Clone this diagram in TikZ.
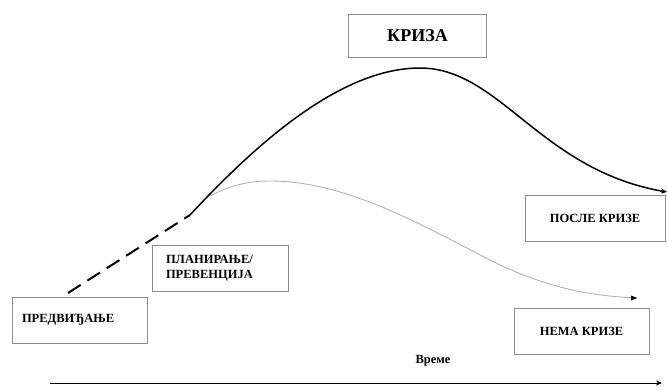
\documentclass[tikz,border=0pt]{standalone}
\usepackage{fontspec}
\setmainfont{Liberation Serif}
\usetikzlibrary{arrows.meta}
\begin{document}
\begin{tikzpicture}[x=1pt,y=-1pt,
  box/.style={draw=black!45, line width=0.7pt, minimum height=46pt, inner sep=0pt,
    font=\bfseries\fontsize{12.5}{15}\selectfont},
  tip/.style={-{Stealth[length=6pt,width=5pt]}}]
\useasboundingbox (0,0) rectangle (668,391);
\node[box, minimum width=138pt, minimum height=43pt, font=\bfseries\fontsize{18}{20}\selectfont] (kriza) at (417.5,36) {КРИЗА};
\node[box, minimum width=135pt, text width=115pt, align=left] (pred) at (79.5,320) {ПРЕДВИЂАЊЕ};
\node[box, minimum width=136pt, text width=108pt, align=left] (plan) at (220,268) {ПЛАНИРАЊЕ/\\ПРЕВЕНЦИЈА};
\node[box, minimum width=140pt] (posle) at (595,218) {ПОСЛЕ КРИЗЕ};
\node[box, minimum width=135pt] (nema) at (581.5,331) {НЕМА КРИЗЕ};
\node[font=\bfseries\fontsize{12.5}{15}\selectfont] (vreme) at (433,361) {Време};
\coordinate (d0) at (68,293);
\coordinate (s0) at (190,215);
\coordinate (peak) at (420,68);
\coordinate (s1) at (667,192);
\coordinate (g0) at (210,196);
\coordinate (g1) at (637,298);
\coordinate (t0) at (50,383);
\coordinate (t1) at (662,383);
\draw[line width=2pt, dash pattern=on 15pt off 8pt] (d0) -- (s0);
\draw[line width=1.5pt, tip] (s0) .. controls (255,145) and (340,68) .. (peak)
  .. controls (500,68) and (540,170) .. (s1);
\draw[black!30, line width=0.9pt] (g0) .. controls (232,184) and (252,181) .. (270,181)
  .. controls (350,181) and (430,230) .. (500,265) .. controls (550,288) and (590,296) .. (g1);
\fill (g1) ++(-6,-2.5) -- ++(6,2.5) -- ++(-6,2.5) -- cycle;
\draw[line width=0.6pt, tip] (t0) -- (t1);
\end{tikzpicture}
\end{document}
